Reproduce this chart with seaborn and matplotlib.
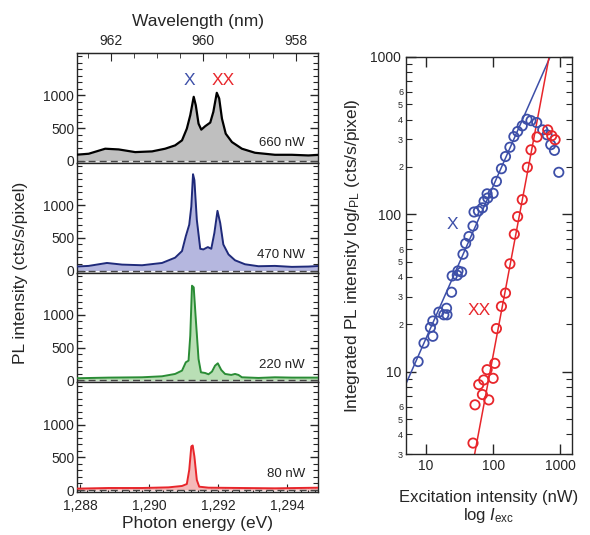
import numpy as np
import matplotlib
matplotlib.use("Agg")
import matplotlib.pyplot as plt
from matplotlib.ticker import (MultipleLocator, FixedLocator, NullLocator,
                               LogLocator, FuncFormatter)
import seaborn as sns

sns.set_style("ticks")
plt.rcParams["font.family"] = ["Liberation Sans", "DejaVu Sans"]
plt.rcParams["mathtext.fontset"] = "custom"
plt.rcParams["mathtext.rm"] = "Liberation Sans"
plt.rcParams["mathtext.it"] = "Liberation Sans:italic"

# --- PL spectra, photon energy (eV) vs counts (cts/s/pixel) ---
e_660 = [1.28786, 1.28824, 1.28872, 1.28911, 1.28959, 1.29008, 1.29046, 1.29075,
         1.29095, 1.29109, 1.29119, 1.29129, 1.29135, 1.29143, 1.29151, 1.29162,
         1.29177, 1.29186, 1.29196, 1.29203, 1.29211, 1.29222, 1.29240, 1.29269,
         1.29307, 1.29365, 1.29414, 1.29462, 1.29496]
pl_660 = [92, 108, 185, 174, 133, 144, 185, 236, 313, 492, 698, 980, 851, 569, 477,
          528, 585, 749, 1041, 954, 646, 415, 287, 185, 123, 92, 92, 82, 92]

e_470 = [1.28786, 1.28824, 1.28877, 1.28921, 1.28979, 1.29037, 1.29075, 1.29095,
         1.29106, 1.29116, 1.29122, 1.29127, 1.29131, 1.29138, 1.29148, 1.29157,
         1.29170, 1.29180, 1.29189, 1.29198, 1.29206, 1.29215, 1.29230, 1.29249,
         1.29278, 1.29317, 1.29365, 1.29414, 1.29462, 1.29496]
pl_470 = [61, 71, 116, 91, 81, 116, 197, 298, 525, 702, 980, 1475, 1384, 778, 333,
          323, 359, 333, 576, 914, 727, 399, 247, 157, 96, 66, 71, 56, 61, 71]

e_220 = [1.28786, 1.28882, 1.28979, 1.29037, 1.29075, 1.29095, 1.29106, 1.29114,
         1.29119, 1.29124, 1.29129, 1.29135, 1.29143, 1.29150, 1.29162, 1.29172,
         1.29182, 1.29191, 1.29199, 1.29209, 1.29220, 1.29238, 1.29249, 1.29259,
         1.29269, 1.29317, 1.29365, 1.29414, 1.29496]
pl_220 = [31, 41, 46, 61, 97, 148, 275, 301, 683, 1448, 1423, 938, 326, 122, 112, 92,
          133, 224, 260, 158, 97, 82, 97, 82, 46, 36, 46, 41, 41]

e_80 = [1.28786, 1.28882, 1.28979, 1.29056, 1.29095, 1.29109, 1.29116, 1.29122,
        1.29126, 1.29131, 1.29138, 1.29145, 1.29172, 1.29269, 1.29365, 1.29496]
pl_80 = [21, 31, 31, 41, 62, 92, 308, 667, 682, 513, 154, 51, 36, 31, 26, 36]

power_labels = ["660 nW", "470 NW", "220 nW", "80 nW"]

# --- integrated intensity vs excitation power ---
x_exc = [7.6, 9.3, 11.6, 12.6, 12.6, 15.5, 18.4, 20.2, 20.5, 24, 24.5, 29.2, 29.9,
         33.9, 35.5, 38.9, 43.6, 50.1, 51.9, 60.3, 69.2, 73.3, 83.2, 81.3, 100, 112,
         133, 153, 178, 204, 232, 272, 320, 367, 447, 550, 638, 724, 822, 955]
x_int = [11.6, 15.2, 19.1, 21, 16.8, 23.9, 23.0, 25.3, 23, 32, 40.6, 41, 43.7,
         43, 55.8, 65.3, 72.3, 84.3, 103.5, 105, 110, 121, 127, 135, 136, 162,
         195, 233, 267, 312, 336, 365, 402, 394, 383, 344, 320, 277, 255, 185]
xx_exc = [50.1, 53.7, 61, 69.2, 72.4, 81.3, 86, 100, 106, 112, 133, 153, 178, 207,
          232, 272, 324, 367, 452, 653, 750, 841]
xx_int = [3.52, 6.16, 8.28, 7.16, 8.86, 10.3, 6.62, 9.08, 11.3, 18.8, 26, 31.6, 48.5,
          74.8, 96.7, 124, 199, 257, 310, 344, 316, 298]
# power-law fit lines, two end points each
x_fit_exc = [4.9, 708]
x_fit_int = [8.2, 1000]
xx_fit_exc = [53, 684]
xx_fit_int = [3, 1000]

blue = "#3d4fa8"
red = "#e8262b"
styles = [("black", "#bfbfbf", 1.6), ("#1f2a7a", "#b5b7df", 1.4),
          ("#2a8c35", "#b9dfb5", 1.4), (red, "#f5b9b9", 1.4)]
spectra = [(e_660, pl_660), (e_470, pl_470), (e_220, pl_220), (e_80, pl_80)]

fig = plt.figure(figsize=(5.9, 5.35), dpi=100)

# left: stacked spectra
left, width = 0.1305, 0.4085
bottom, top_ = 0.0804, 0.9009
ph = (top_ - bottom) / 4
axes = []
for i, ((e, pl), (lc, fc, lw), lab) in enumerate(zip(spectra, styles, power_labels)):
    ax = fig.add_axes([left, top_ - (i + 1) * ph, width, ph])
    ax.fill_between(e, 0, pl, color=fc, lw=0, zorder=1)
    sns.lineplot(x=e, y=pl, ax=ax, color=lc, lw=lw, zorder=3)
    ax.axhline(0, color="#444444", lw=1, ls=(0, (5, 3)), zorder=2)
    ax.set_xlim(1.2879, 1.2949)
    ax.set_ylim(-30, 1650)
    ax.yaxis.set_major_locator(FixedLocator([0, 500, 1000]))
    ax.yaxis.set_minor_locator(MultipleLocator(100))
    ax.tick_params(axis="y", which="both", direction="in", left=True, right=True,
                   labelsize=10, pad=2)
    ax.tick_params(axis="y", which="major", length=6, width=1)
    ax.tick_params(axis="y", which="minor", length=3.5, width=0.8)
    ax.text(1.29452, 240 if i else 275, lab, ha="right", va="center", fontsize=9.5,
            color="#222222")
    for s in ax.spines.values():
        s.set_linewidth(1)
    if i < 3:
        ax.tick_params(axis="x", which="both", bottom=False, top=False,
                       labelbottom=False)
    else:
        ax.xaxis.set_major_locator(MultipleLocator(0.002))
        ax.xaxis.set_minor_locator(MultipleLocator(0.0002))
        ax.xaxis.set_major_formatter(FuncFormatter(lambda v, p: f"{v:.3f}".replace(".", ",")))
        ax.tick_params(axis="x", which="both", direction="in", top=False, labelsize=10,
                       pad=5)
        ax.tick_params(axis="x", which="major", length=6)
        ax.tick_params(axis="x", which="minor", length=3, width=0.8)
        ax.set_xlabel("Photon energy (eV)", fontsize=12.5, labelpad=2)
    ax.set_ylabel("")
    axes.append(ax)

hc = 1239.9
sec = axes[0].secondary_xaxis("top", functions=(lambda e: hc / np.maximum(e, 1e-6),
                                                 lambda w: hc / np.maximum(w, 1e-6)))
sec.set_xticks([962, 960, 958])
sec.xaxis.set_minor_locator(MultipleLocator(0.5))
sec.tick_params(which="both", direction="in", labelsize=10)
sec.tick_params(which="major", length=6)
sec.tick_params(which="minor", length=3.5)
sec.set_xlabel("Wavelength (nm)", fontsize=12.5, labelpad=6)

axes[0].text(1.29116, 1230, "X", color=blue, fontsize=12.5, ha="center", va="center")
axes[0].text(1.29214, 1230, "XX", color=red, fontsize=12.5, ha="center", va="center")
fig.text(0.034, (bottom + top_) / 2, "PL intensity (cts/s/pixel)", rotation=90,
         ha="center", va="center", fontsize=12.5)

# right: log-log power dependence
ax2 = fig.add_axes([0.688, 0.1514, 0.2814, 0.7421])
sns.lineplot(x=x_fit_exc, y=x_fit_int, ax=ax2, color=blue, lw=1.1)
sns.lineplot(x=xx_fit_exc, y=xx_fit_int, ax=ax2, color=red, lw=1.1)
sns.scatterplot(x=x_exc, y=x_int, ax=ax2, s=45, facecolor="none", edgecolor=blue,
                linewidth=1.3, zorder=3)
sns.scatterplot(x=xx_exc, y=xx_int, ax=ax2, s=45, facecolor="none", edgecolor=red,
                linewidth=1.3, zorder=3)
ax2.set_xscale("log")
ax2.set_yscale("log")
ax2.set_xlim(5, 1500)
ax2.set_ylim(3, 1000)
ax2.xaxis.set_major_locator(FixedLocator([10, 100, 1000]))
ax2.xaxis.set_minor_locator(NullLocator())
ax2.xaxis.set_major_formatter(FuncFormatter(lambda v, p: f"{v:g}"))
ax2.yaxis.set_major_locator(FixedLocator([10, 100, 1000]))
ax2.yaxis.set_major_formatter(FuncFormatter(lambda v, p: f"{v:g}"))
ax2.yaxis.set_minor_locator(LogLocator(base=10, subs=range(2, 10), numticks=20))


def minor_fmt(v, p):
    m = int(round(v / 10 ** np.floor(np.log10(v) + 1e-9)))
    return str(m) if 2 <= m <= 6 else ""


ax2.yaxis.set_minor_formatter(FuncFormatter(minor_fmt))
ax2.tick_params(axis="both", which="both", direction="in", top=True, right=True)
ax2.tick_params(axis="both", which="major", length=7, width=1, labelsize=10)
ax2.tick_params(axis="y", which="minor", length=4, width=0.8, labelsize=6.5, pad=2)
for s in ax2.spines.values():
    s.set_linewidth(1)
ax2.text(24.3, 86, "X", color=blue, fontsize=12.5, ha="center", va="center")
ax2.text(63, 24.5, "XX", color=red, fontsize=12.5, ha="center", va="center")
ax2.set_ylabel("Integrated PL intensity log$I_{\\mathrm{PL}}$ (cts/s/pixel)",
               fontsize=12.5, labelpad=6)
ax2.set_xlabel("Excitation intensity (nW)\nlog $I_{\\mathrm{exc}}$", fontsize=12,
               labelpad=12, linespacing=1.1)

fig.savefig("out.png", dpi=100)
